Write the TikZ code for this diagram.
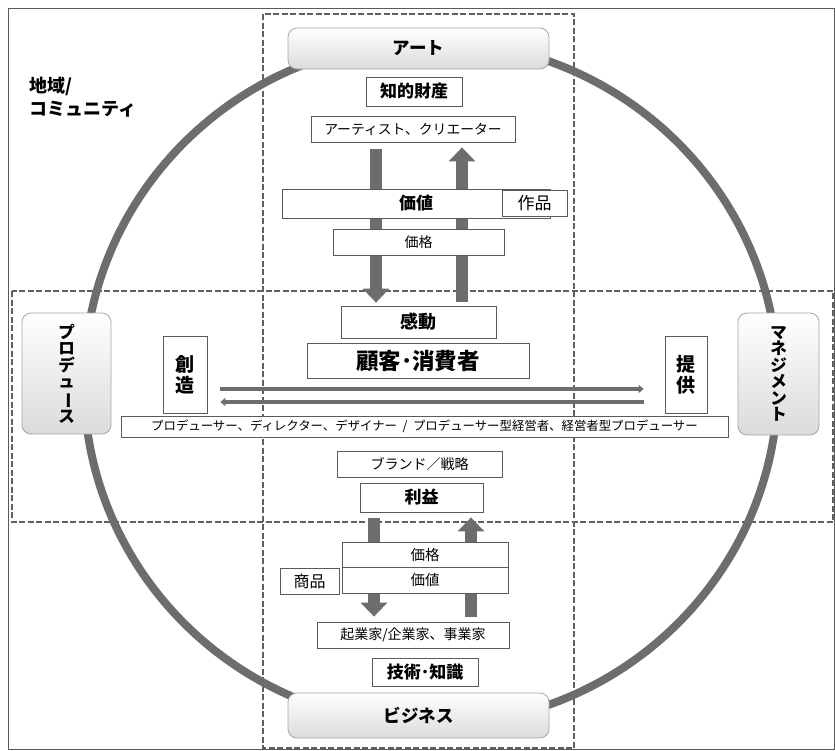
\documentclass[tikz,border=0pt]{standalone}
\usepackage{fontspec}
\setmainfont{Noto Sans CJK JP}
\usetikzlibrary{arrows.meta,calc}
\definecolor{arcg}{HTML}{6D6D6D}
\definecolor{boxg}{HTML}{5A5A5A}
\definecolor{dashg}{HTML}{606060}
\tikzset{
  bx/.style={draw=boxg, fill=white, line width=0.8pt, inner sep=0pt, text=black},
  rbx/.style={draw=gray!70, rounded corners=9pt, top color=white, bottom color=gray!28, line width=0.8pt, inner sep=0pt, font=\bfseries\fontsize{17.5}{18}\selectfont},
  fat/.style={draw=arcg, line width=12pt, -{Triangle[width=26pt,length=14pt]}},
  thin/.style={draw=arcg, line width=3.6pt, -{Triangle[width=8pt,length=5pt]}},
  dashbox/.style={draw=dashg, line width=1.6pt, dash pattern=on 6pt off 2.5pt},
}
\newcommand{\vbar}{\rotatebox[origin=c]{-90}{ー}}
\begin{document}
\begin{tikzpicture}[x=1pt,y=-1pt]
\useasboundingbox (0,0) rectangle (835,750);
\fill[white] (0,0) rectangle (835,750);
\draw[boxg, line width=0.8pt] (8,8) rectangle (834,749);
% dashed areas
\draw[dashbox] (263,14) rectangle (574,748);
\draw[dashbox] (12,291) rectangle (833,522);
% ring
\draw[arcg, line width=8pt] (431,383) ellipse [x radius=347, y radius=342];
% nodes
\node[bx, minimum width=96pt, minimum height=29pt, font=\bfseries\fontsize{17}{18}\selectfont] (chiteki) at (414,91.5) {知的財産};
\node[bx, minimum width=204pt, minimum height=26pt, font=\fontsize{13.8}{14}\selectfont] (artist) at (413,129) {アーティスト、クリエーター};
\node[bx, minimum width=155pt, minimum height=32pt, font=\bfseries\fontsize{18}{19}\selectfont] (kando) at (418.5,322) {感動};
\node[bx, minimum width=123pt, minimum height=29pt, font=\bfseries\fontsize{17}{18}\selectfont] (rieki) at (421.5,497.5) {利益};
\node[bx, minimum width=192pt, minimum height=26pt, font=\fontsize{14}{15}\selectfont] (kigyo) at (413,635) {起業家/企業家、事業家};
% fat arrows
\draw[fat] ([xshift=-37pt,yshift=-7pt]artist.south) -- ([xshift=-42.5pt,yshift=3pt]kando.north);
\draw[fat] ([xshift=43.5pt,yshift=4pt]kando.north) -- ([xshift=49pt,yshift=-5pt]artist.south);
\draw[fat] ([xshift=-47.5pt,yshift=-6pt]rieki.south) -- ([xshift=-39pt,yshift=5pt]kigyo.north);
\draw[fat] ([xshift=58pt,yshift=5pt]kigyo.north) -- ([xshift=49.5pt,yshift=-5pt]rieki.south);
% boxes over arrows
\node[bx, minimum width=268pt, minimum height=29pt, font=\bfseries\fontsize{17}{18}\selectfont] (kachi1) at (416,203.5) {価値};
\node[bx, minimum width=65pt, minimum height=26pt, font=\fontsize{17}{18}\selectfont] (sakuhin) at (534.5,203) {作品};
\node[bx, minimum width=171pt, minimum height=26pt, font=\fontsize{14}{15}\selectfont] (kakaku1) at (418.5,242) {価格};
\node[bx, minimum width=222pt, minimum height=35pt, font=\bfseries\fontsize{22.5}{23}\selectfont] (kokyaku) at (418,360.5) {顧客･消費者};
\node[bx, minimum width=44pt, minimum height=77pt, align=center, font=\bfseries\fontsize{19}{21}\selectfont] (souzou) at (185,374.5) {創\\造};
\node[bx, minimum width=42pt, minimum height=77pt, align=center, font=\bfseries\fontsize{19}{21}\selectfont] (teikyo) at (686,374.5) {提\\供};
\node[bx, minimum width=607pt, minimum height=21pt, font=\fontsize{12.4}{13}\selectfont] (long) at (424.5,426.5) {プロデューサー、ディレクター、デザイナー\ \ /\ \ プロデューサー型経営者、経営者型プロデューサー};
\node[bx, minimum width=165pt, minimum height=26pt, font=\fontsize{14}{15}\selectfont] (brand) at (419.5,464) {ブランド／戦略};
\node[bx, minimum width=166pt, minimum height=25pt, font=\fontsize{14.5}{15}\selectfont] (kakaku2) at (425,554.5) {価格};
\node[bx, minimum width=166pt, minimum height=26pt, font=\fontsize{14.5}{15}\selectfont] (kachi2) at (425,580) {価値};
\node[bx, minimum width=59pt, minimum height=26pt, font=\fontsize{16}{17}\selectfont] (shohin) at (309.5,581) {商品};
\node[bx, minimum width=106pt, minimum height=28pt, font=\bfseries\fontsize{17}{18}\selectfont] (gijutsu) at (425,672) {技術･知識};
% thin arrows
\draw[thin] ([xshift=13pt,yshift=-14.5pt]souzou.east) -- ([xshift=-21pt,yshift=-14.5pt]teikyo.west);
\draw[thin] ([xshift=-21pt,yshift=-27.5pt]teikyo.west) -- ([xshift=13pt,yshift=-27.5pt]souzou.east);
% rounded role boxes
\node[rbx, minimum width=261pt, minimum height=41pt] (art) at (418.5,48.5) {アート};
\node[rbx, minimum width=261pt, minimum height=45pt] (biz) at (418.5,715.5) {ビジネス};
\node[rbx, minimum width=89pt, minimum height=121pt, align=center, font=\bfseries\fontsize{16.5}{16.5}\selectfont] (prod) at (66.5,373.5) {プ\\ロ\\デ\\ュ\\\vbar\\ス};
\node[rbx, minimum width=81pt, minimum height=122pt, align=center, font=\bfseries\fontsize{16.5}{16.5}\selectfont] (mgmt) at (778.5,374) {マ\\ネ\\ジ\\メ\\ン\\ト};
% region label
\node[anchor=north west, align=left, inner sep=0pt, font=\bfseries\fontsize{18}{23}\selectfont] (chiiki) at (29,77) {地域/\\コミュニティ};
\end{tikzpicture}
\end{document}
